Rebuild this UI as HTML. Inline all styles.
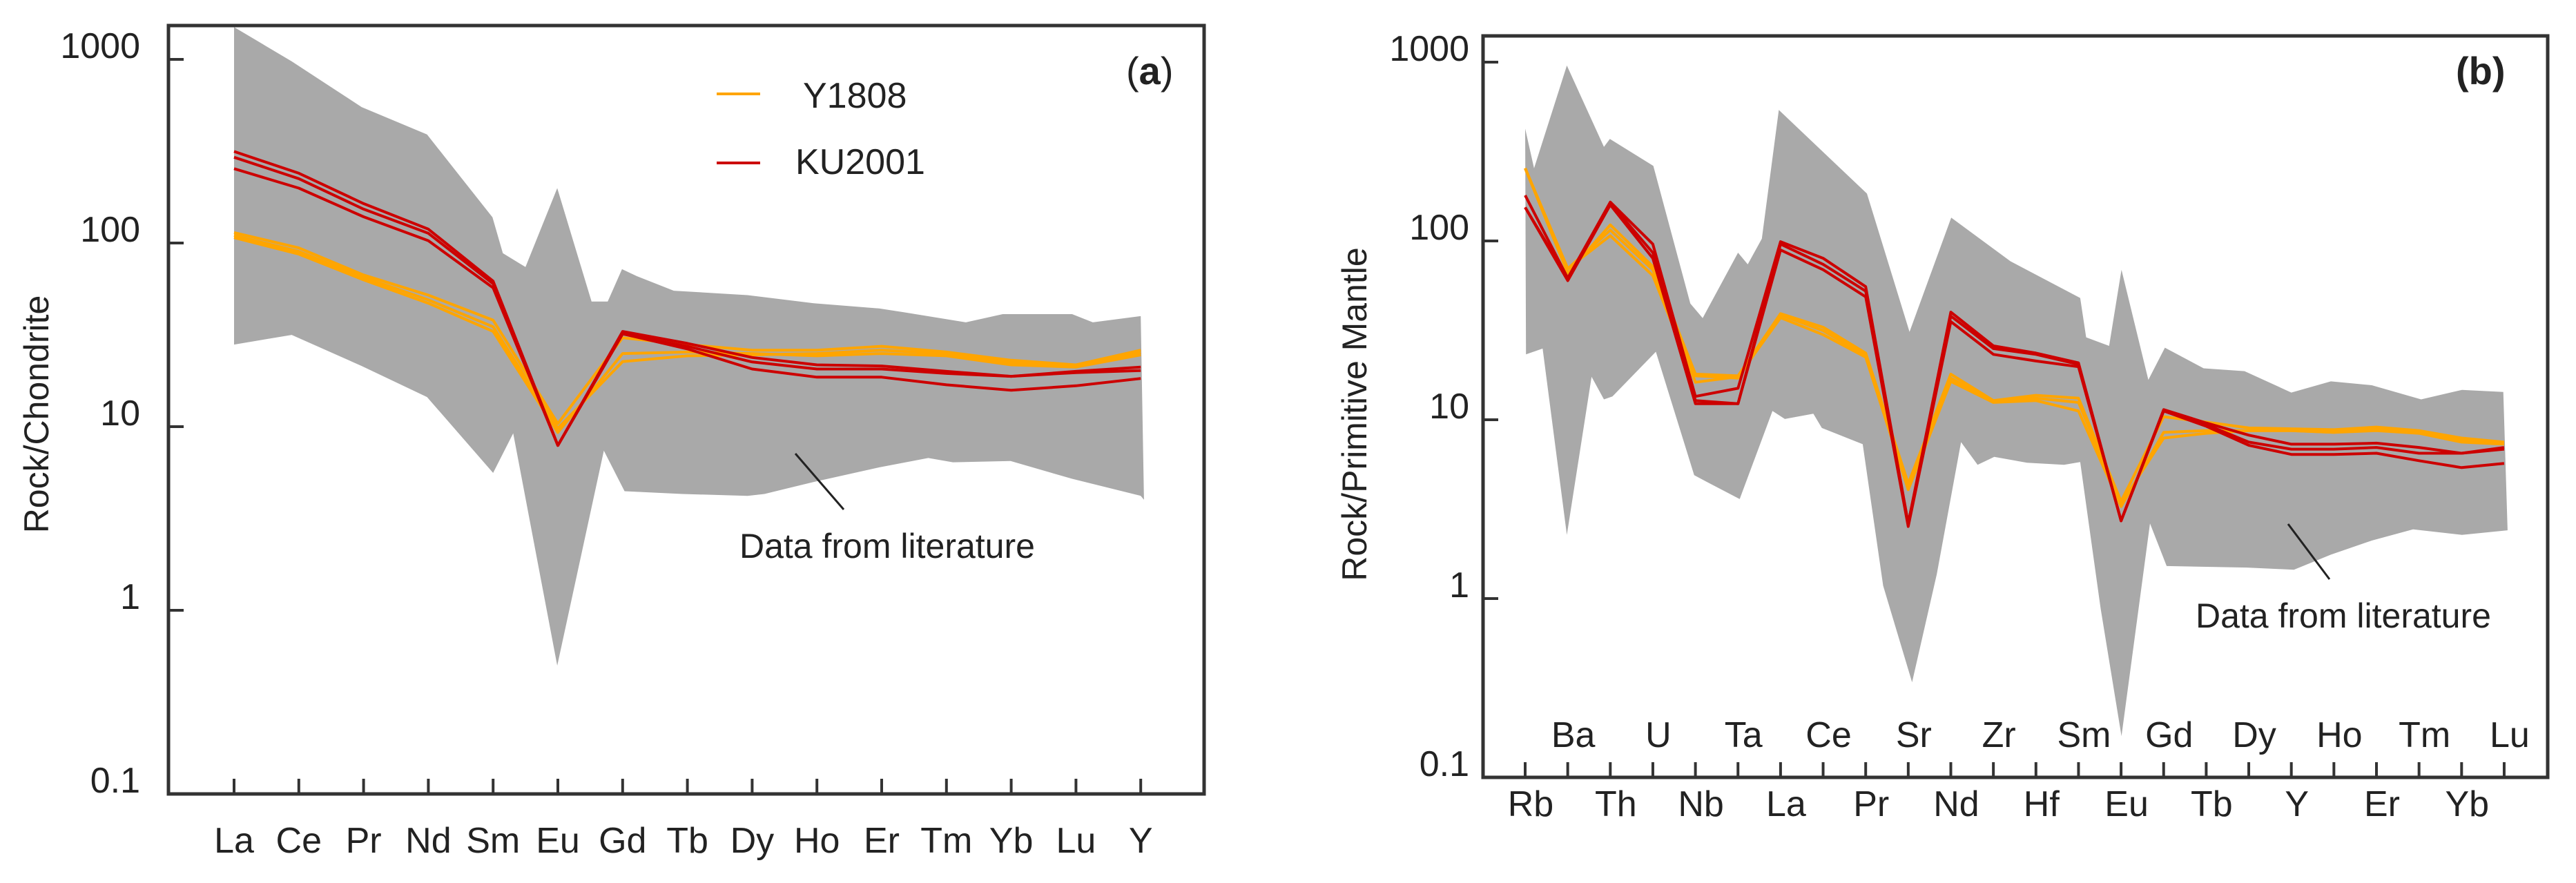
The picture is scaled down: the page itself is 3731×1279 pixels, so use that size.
<!DOCTYPE html>
<html><head><meta charset="utf-8">
<style>
html,body{margin:0;padding:0;background:#fff;}
svg{display:block;font-family:"Liberation Sans",Arial,sans-serif;}
</style></head>
<body>
<svg id="fig" width="3731" height="1279" viewBox="0 0 3731 1279" xmlns="http://www.w3.org/2000/svg">
<defs>
<clipPath id="clipA"><rect x="244" y="37" width="1500" height="1113"/></clipPath>
<clipPath id="clipB"><rect x="2148" y="52" width="1542" height="1074"/></clipPath>
</defs>
<rect x="0" y="0" width="3731" height="1279" fill="#fff"/>
<g id="panelA"></g>
<g id="panelB"></g>
</svg>
<script>
// ---------- Panel (a) data ----------
const reeLabels = ["La","Ce","Pr","Nd","Sm","Eu","Gd","Tb","Dy","Ho","Er","Tm","Yb","Lu","Y"];
const yTicksA = [1000,100,10,1,0.1];
const yTickLabelsA = ["1000","100","10","1","0.1"];
const bandUpperIdxA = [0,0.89,1.97,2.98,3.99,4.15,4.5,4.99,5.52,5.77,5.99,6.22,6.79,7.93,8.95,9.96,10.34,11.3,11.87,12.94,13.26,14];
const bandUpperValA = [1500,975,550,390,138,88,74,199,48,48,72,66,55,52,47,44,42,37,41,41,37,40];
const bandLowerIdxA = [14.05,14,12.94,11.99,11.1,10.72,9.96,8.95,8.19,7.93,6.92,6.03,5.71,4.99,4.31,4.0,2.98,1.97,0.89,0];
const bandLowerValA = [4.0,4.2,5.2,6.5,6.4,6.75,6.0,5.0,4.3,4.2,4.3,4.45,7.4,0.5,9.2,5.6,14.5,21.4,31.6,28];
const ku2001A_1 = [315,240,164,119,62,7.9,33,28.4,23.8,21.7,21.4,20,18.8,20,21.1];
const ku2001A_2 = [293,224,153,113,60,7.9,32,27.4,22.5,20.6,20.6,19.5,18.8,19.7,20.2];
const ku2001A_3 = [254,199,139,103,57,7.9,32,26.5,20.6,18.6,18.6,16.9,15.8,16.7,18.3];
const y1808A_1 = [114,94,67,52,38,10.4,30.5,28,26.1,26.1,27.4,25.5,23,21.7,26.1];
const y1808A_2 = [107,87,63,47,33,9.3,25,25.5,25,24.3,25,24.3,21.7,21.1,24.6];
const y1808A_3 = [110,90,65,49,35,9.8,22.6,24.3,24.6,25,26.1,25,22.3,21.4,25.3];

// ---------- Panel (b) data ----------
const spiderLabels = ["Rb","Ba","Th","U","Nb","Ta","La","Ce","Pr","Sr","Nd","Zr","Hf","Sm","Eu","Gd","Tb","Dy","Y","Ho","Er","Tm","Yb","Lu"];
const yTicksB = [1000,100,10,1,0.1];
const yTickLabelsB = ["1000","100","10","1","0.1"];
const bandUpperIdxB = [0,0.21,0.98,1.85,1.99,3.01,3.88,4.17,5.0,5.23,5.56,5.96,8.03,9.03,10.01,11.4,13.04,13.18,13.72,14.01,14.64,15.03,15.94,16.9,18.0,18.93,19.89,21.05,22.01,22.98];
const bandUpperValB = [425,255,957,336,372,263,44.7,37,86,74,103,540,184,31,135,77,48,28.9,25.9,69,16.7,25.3,19.4,18.7,14.2,16.4,15.6,13,14.7,14.3];
const bandLowerIdxB = [23.08,22.01,20.86,19.89,18.93,18.06,16.96,15.07,14.68,14.01,13.52,13.04,12.66,11.79,11.02,10.63,10.24,9.67,9.09,8.41,7.93,6.97,6.77,6.10,5.81,5.04,4.26,3.97,3.07,2.05,1.85,1.56,0.98,0.41,0.02];
const bandLowerValB = [2.41,2.27,2.44,2.11,1.76,1.45,1.49,1.52,2.63,0.17,0.88,5.8,5.6,5.75,6.2,5.6,7.5,1.37,0.34,1.18,7.3,9.0,10.8,10.1,11.2,3.6,4.5,4.9,24,13.5,13,17.4,2.27,25,23.2];
const ku2001B_1 = [180,62,165,96,13.5,15,99,80,55.5,2.63,40,25.9,23.6,20.8,2.72,11.4,9.6,8.2,7.3,7.3,7.4,7.0,6.5,7.0];
const ku2001B_2 = [154,62,163,86,12.8,12.3,96,74,52.4,2.63,38,25,23.2,20.4,2.72,11.2,9.4,7.5,6.85,6.85,7.0,6.5,6.5,6.85];
const ku2001B_3 = [154,60,159,80,12.3,12.3,89,69,48.7,2.53,35.4,23.2,21.3,19.8,2.72,11.2,9.2,7.2,6.4,6.4,6.5,5.9,5.4,5.7];
const y1808B_1 = [255,66,123,72,18,17.6,39.2,32.9,23.6,4.4,18,12.8,13.7,13.2,3.5,10.4,9.7,9.0,8.9,8.8,9.1,8.7,7.9,7.5];
const y1808B_2 = [255,70,107,64,16.2,17.4,37.2,29.9,22.4,4.06,16.4,12.5,12.8,11.2,3.27,8.5,8.7,8.7,8.7,8.5,8.7,8.4,7.5,7.3];
const y1808B_3 = [255,70,115,69,17.6,17.1,38.6,31.5,22.9,4.3,17.1,12.7,13.2,12.5,3.4,7.9,8.4,8.7,8.7,8.5,8.9,8.5,7.7,7.4];

const NS = "http://www.w3.org/2000/svg";
function mk(tag, attrs, parent){ const e=document.createElementNS(NS,tag); for(const k in attrs) e.setAttribute(k,attrs[k]); parent.appendChild(e); return e; }

function drawPanel(cfg){
  const g = document.getElementById(cfg.id);
  const xs = i => cfg.x0 + i*cfg.dx;
  const ys = v => cfg.yb - (Math.log10(v) - Math.log10(0.1))*cfg.dec;
  const clip = mk('g',{'clip-path':'url(#'+cfg.clip+')'},g);
  
  
  // band
  let pts=[];
  cfg.bUx.forEach((ix,k)=>pts.push(xs(ix).toFixed(1)+','+ys(cfg.bUv[k]).toFixed(1)));
  cfg.bLx.forEach((ix,k)=>pts.push(xs(ix).toFixed(1)+','+ys(cfg.bLv[k]).toFixed(1)));
  const band = mk('polygon',{points:pts.join(' '),fill:'#a9a9a9',stroke:'none'},clip);
  
  
  // series
  cfg.series.forEach(s=>{
    const p = mk('polyline',{points:s.v.map((v,i)=>xs(i).toFixed(1)+','+ys(v).toFixed(1)).join(' '),fill:'none',stroke:s.c,'stroke-width':4,'stroke-linejoin':'round'},clip);
    
    
  });
  // frame
  const fr = mk('rect',{x:cfg.fx,y:cfg.fy,width:cfg.fw,height:cfg.fh,fill:'none',stroke:'#333','stroke-width':5},g);
  
  
  // y ticks
  cfg.yt.forEach((v,k)=>{
    const y=ys(v);
    if(v>0.1){
      const t=mk('line',{x1:cfg.fx,x2:cfg.fx+22,y1:y,y2:y,stroke:'#333','stroke-width':4},g);
      
      
    }
    const tx=mk('text',{x:cfg.ylx,y:y-2,'font-size':52,'text-anchor':'end',fill:'#222'},g);
    tx.textContent=cfg.ytl[k];
    
    
  });
  // x ticks & labels
  cfg.labels.forEach((lb,i)=>{
    const x=xs(i);
    const t=mk('line',{x1:x,x2:x,y1:cfg.fy+cfg.fh,y2:cfg.fy+cfg.fh-22,stroke:'#333','stroke-width':4},g);
    
    
    const up = cfg.stagger && (i%2===1);
    const tx=mk('text',{x:x+(cfg.stagger?8:0),y:up?cfg.xlyUp:cfg.xly,'font-size':52,'text-anchor':'middle',fill:'#222'},g);
    tx.textContent=lb;
    
    
  });
}

drawPanel({id:'panelA',clip:'clipA',x0:339,dx:93.8,yb:1150,dec:266,fx:244,fy:37,fw:1500,fh:1113,
  ylx:203,yt:yTicksA,ytl:yTickLabelsA,labels:reeLabels,stagger:false,xly:1235,
  bUx:bandUpperIdxA,bUv:bandUpperValA,bLx:bandLowerIdxA,bLv:bandLowerValA,
  series:[{v:y1808A_1,c:'#ffa500',n:'y1808-line'},{v:y1808A_2,c:'#ffa500',n:'y1808-line'},{v:y1808A_3,c:'#ffa500',n:'y1808-line'},
          {v:ku2001A_1,c:'#cc0000',n:'ku2001-line'},{v:ku2001A_2,c:'#cc0000',n:'ku2001-line'},{v:ku2001A_3,c:'#cc0000',n:'ku2001-line'}]});

drawPanel({id:'panelB',clip:'clipB',x0:2209,dx:61.65,yb:1126,dec:259,fx:2148,fy:52,fw:1542,fh:1074,
  ylx:2128,yt:yTicksB,ytl:yTickLabelsB,labels:spiderLabels,stagger:true,xly:1182,xlyUp:1082,
  bUx:bandUpperIdxB,bUv:bandUpperValB,bLx:bandLowerIdxB,bLv:bandLowerValB,
  series:[{v:y1808B_1,c:'#ffa500',n:'y1808-line'},{v:y1808B_2,c:'#ffa500',n:'y1808-line'},{v:y1808B_3,c:'#ffa500',n:'y1808-line'},
          {v:ku2001B_1,c:'#cc0000',n:'ku2001-line'},{v:ku2001B_2,c:'#cc0000',n:'ku2001-line'},{v:ku2001B_3,c:'#cc0000',n:'ku2001-line'}]});
</script>
<svg style="position:absolute;left:0;top:0" width="3731" height="1279" viewBox="0 0 3731 1279" xmlns="http://www.w3.org/2000/svg" font-family="Liberation Sans, Arial, sans-serif">
  <text x="57" y="600" font-size="50" text-anchor="middle" transform="rotate(-90 57 600)" dominant-baseline="middle" fill="#222">Rock/Chondrite</text>
  <text x="1966" y="600" font-size="50" text-anchor="middle" transform="rotate(-90 1966 600)" dominant-baseline="middle" fill="#222">Rock/Primitive Mantle</text>
  <g>
    <line x1="1038" y1="136" x2="1101" y2="136" stroke="#ffa500" stroke-width="4"/>
    <text x="1163" y="156" font-size="52" fill="#222">Y1808</text>
    <line x1="1038" y1="236" x2="1101" y2="236" stroke="#cc0000" stroke-width="4"/>
    <text x="1152" y="252" font-size="52" fill="#222">KU2001</text>
  </g>
  <text x="1631" y="122" font-size="56" fill="#222">(<tspan font-weight="bold">a</tspan>)</text>
  <text x="3557" y="122" font-size="56" font-weight="bold" fill="#222">(b)</text>
  <line x1="1152" y1="657" x2="1222" y2="738" stroke="#222" stroke-width="3"/>
  <text x="1071" y="808" font-size="50" fill="#222">Data from literature</text>
  <line x1="3314" y1="759" x2="3374" y2="839" stroke="#222" stroke-width="3"/>
  <text x="3180" y="909" font-size="50" fill="#222">Data from literature</text>
</svg>
</body></html>
